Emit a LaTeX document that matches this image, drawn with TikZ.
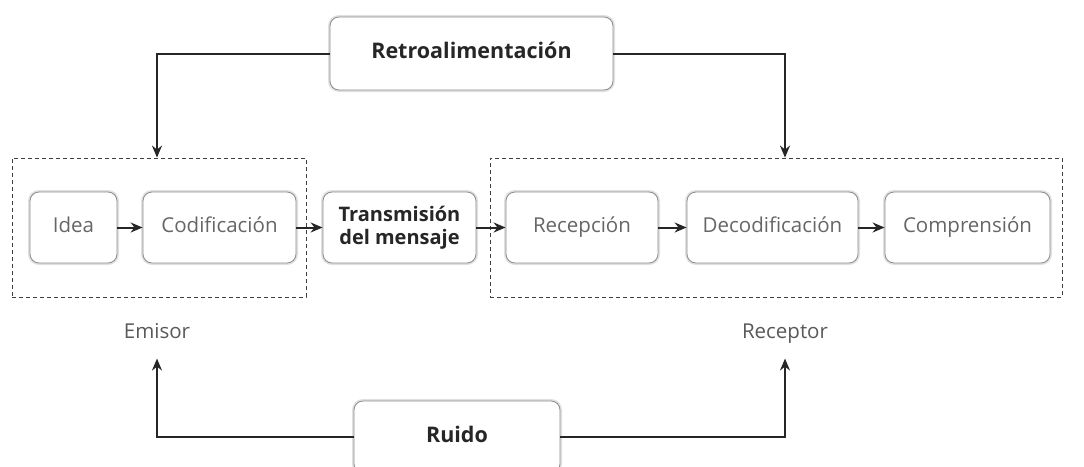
\documentclass[tikz,border=0pt]{standalone}
\usepackage{fontspec}
\setmainfont{Open Sans}
\usetikzlibrary{arrows.meta,positioning}

\begin{document}
\begin{tikzpicture}[>={Stealth[length=12pt,width=10pt]}, x=1pt, y=-1pt]
    \tikzstyle{etapa}=[rectangle,rounded corners=9pt,draw=black!45,fill=white,line width=0.8pt,
      preaction={draw=black!12,line width=4pt},align=center,
      font=\fontsize{20.5}{23}\selectfont,text=black!60]
    \tikzstyle{fuerte}=[etapa,font=\fontsize{21.5}{24}\selectfont\bfseries,text=black!85]
    \tikzstyle{linea}=[text height=15pt,text depth=5pt]
    \tikzstyle{grupo}=[rectangle,draw=black!75,line width=0.8pt,dash pattern=on 4pt off 3pt]
    \tikzstyle{rotulo}=[font=\fontsize{20.5}{23}\selectfont,text=black!65]
    \tikzstyle{flecha}=[->,line width=2pt,black!85]

    \useasboundingbox (0,0) rectangle (1084,466);

    \node[grupo,minimum width=294,minimum height=139](emisorbox) at (159,227.5){};
    \node[grupo,minimum width=572,minimum height=139](receptorbox) at (776,227.5){};

    \node[fuerte,linea,minimum width=283,minimum height=73](retro) at (471.5,53.5){Retroalimentación};

    \node[etapa,linea,minimum width=87,minimum height=71](idea) at (73.5,227.5){Idea};
    \node[etapa,linea,minimum width=153,minimum height=71](codif) at (219.5,227.5){Codificación};
    \node[fuerte,font=\fontsize{20}{23}\selectfont\bfseries,minimum width=153,minimum height=71](trans) at (399.5,227.5){Transmisión\\del mensaje};
    \node[etapa,linea,minimum width=152,minimum height=71](recep) at (582,227.5){Recepción};
    \node[etapa,linea,minimum width=171,minimum height=71](decod) at (772.5,227.5){Decodificación};
    \node[etapa,linea,minimum width=165,minimum height=71](compr) at (967.5,227.5){Comprensión};

    \node[rotulo,linea](emisor) at (157,333){Emisor};
    \node[rotulo,linea](receptor) at (785,333){Receptor};

    \node[fuerte,linea,minimum width=206,minimum height=72](ruido) at (457,437){Ruido};

    \draw[flecha] (idea) -- (codif);
    \draw[flecha] (codif) -- (trans);
    \draw[flecha] (trans) -- (recep);
    \draw[flecha] (recep) -- (decod);
    \draw[flecha] (decod) -- (compr);

    \draw[flecha] (retro.west) -| (emisor |- emisorbox.north);
    \draw[flecha] (retro.east) -| (receptor |- receptorbox.north);
    \draw[flecha] (ruido.west) -| ([yshift=-12pt]emisor.south);
    \draw[flecha] (ruido.east) -| ([yshift=-12pt]receptor.south);
  \end{tikzpicture}
\end{document}
